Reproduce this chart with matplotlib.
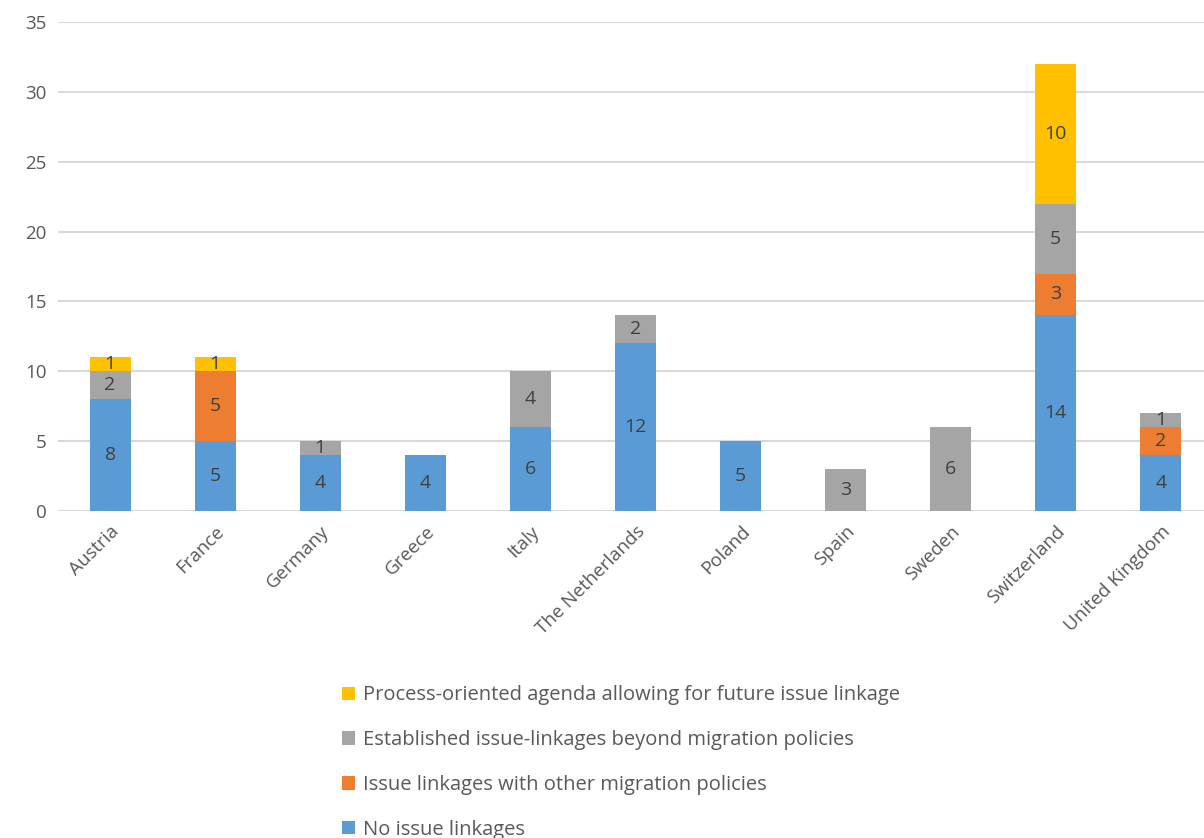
import matplotlib
matplotlib.use("Agg")
import matplotlib.pyplot as plt
import numpy as np

plt.rcParams['font.family'] = ['Open Sans', 'DejaVu Sans']

# 数据
countries = ["Austria", "France", "Germany", "Greece", "Italy", "The Netherlands",
             "Poland", "Spain", "Sweden", "Switzerland", "United Kingdom"]
no_linkage = [8, 5, 4, 4, 6, 12, 5, 0, 0, 14, 4]
migration_linkage = [0, 5, 0, 0, 0, 0, 0, 0, 0, 3, 2]
established_linkage = [2, 0, 1, 0, 4, 2, 0, 3, 6, 5, 1]
process_agenda = [1, 1, 0, 0, 0, 0, 0, 0, 0, 10, 0]

series_names = ["No issue linkages",
                "Issue linkages with other migration policies",
                "Established issue-linkages beyond migration policies",
                "Process-oriented agenda allowing for future issue linkage"]
series_values = [no_linkage, migration_linkage, established_linkage, process_agenda]
colors = ["#5B9BD5", "#ED7D31", "#A5A5A5", "#FFC000"]

text_color = "#595959"
label_color = "#404040"

fig = plt.figure(figsize=(12.04, 8.38), dpi=100)
ax = fig.add_axes([0.0478, 0.3902, 0.960, 0.5835])

x = np.arange(len(countries))
bottom = np.zeros(len(countries))
handles = []
for name, vals, c in zip(series_names, series_values, colors):
    vals = np.array(vals)
    bars = ax.bar(x, vals, 0.39, bottom=bottom, color=c, label=name, zorder=3)
    handles.append(bars)
    for xi, v, b in zip(x, vals, bottom):
        if v > 0:
            ax.text(xi, b + v / 2, str(v), ha='center', va='center',
                    fontsize=14, color=label_color, zorder=4)
    bottom += vals

ax.set_xlim(-0.5, len(countries) - 0.5)
ax.set_ylim(0, 35)
ax.set_yticks(range(0, 36, 5))
ax.yaxis.grid(True, color="#D9D9D9", linewidth=1.5, zorder=0)
ax.set_axisbelow(True)
for s in ax.spines.values():
    s.set_visible(False)
ax.tick_params(axis='both', length=0, colors=text_color, labelsize=13.5)
ax.tick_params(axis='y', pad=8)
ax.tick_params(axis='x', pad=8)
ax.set_xticks(x)
ax.set_xticklabels(countries, rotation=45, ha='right', rotation_mode='anchor')

leg = fig.legend(handles[::-1], series_names[::-1], loc='upper left',
                 bbox_to_anchor=(0.284, 0.182), frameon=False, fontsize=14.5,
                 handlelength=0.65, handleheight=0.65, handletextpad=0.4,
                 labelspacing=1.23, borderaxespad=0, borderpad=0)
for t in leg.get_texts():
    t.set_color(text_color)

fig.savefig("out.png", dpi=100)
